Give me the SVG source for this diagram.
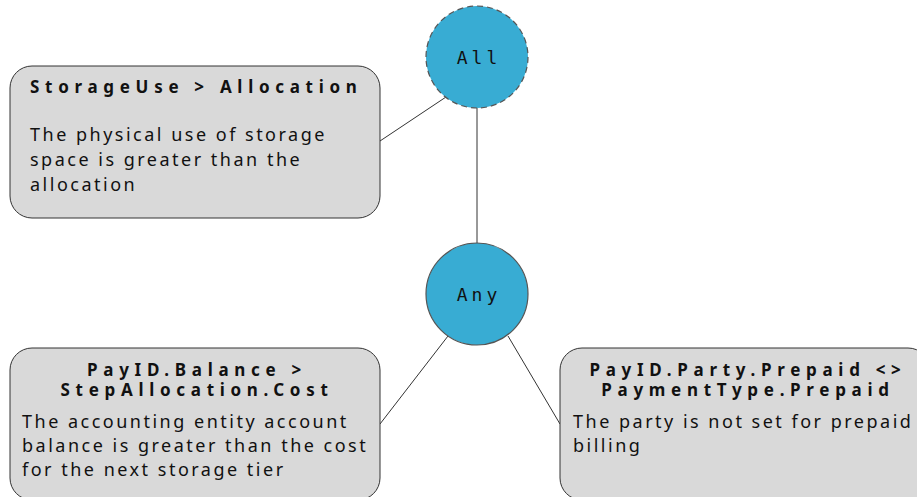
<svg xmlns="http://www.w3.org/2000/svg" width="917" height="497" viewBox="0 0 917 497">
<style>
.box{fill:#d9d9d9;stroke:#333;stroke-width:1}
.circ{fill:#38acd3;stroke:#555;stroke-width:1.2}
.title{font-family:"Noto Sans","Open Sans",sans-serif;font-weight:bold;font-size:17px;letter-spacing:5.7px;fill:#111}
.body{font-family:"Noto Sans","Open Sans",sans-serif;font-size:18px;letter-spacing:2.5px;fill:#111}
.ctext{font-family:"DejaVu Sans Mono",monospace;font-size:18px;letter-spacing:4px;fill:#111;text-anchor:middle}
.conn{stroke:#333;stroke-width:1;fill:none}
</style>
<rect width="917" height="497" fill="#fff"/>
<g id="connectors">
<line class="conn" x1="477" y1="108" x2="477" y2="243"/>
<line class="conn" x1="380" y1="141" x2="446" y2="97"/>
<line class="conn" x1="380" y1="424" x2="448" y2="336"/>
<line class="conn" x1="508" y1="336" x2="560" y2="424"/>
</g>
<g id="all">
<circle class="circ" cx="477" cy="57" r="51" stroke-dasharray="6 4"/>
<text class="ctext" x="479" y="64">All</text>
</g>
<g id="any">
<circle class="circ" cx="477" cy="294" r="51"/>
<text class="ctext" x="479" y="301">Any</text>
</g>
<g id="storage">
<rect class="box" x="10" y="66" width="370" height="152" rx="22"/>
<text class="title" x="30" y="93">StorageUse &gt; Allocation</text>
<text class="body" x="30" y="141">The physical use of storage</text>
<text class="body" x="30" y="166">space is greater than the</text>
<text class="body" x="30" y="191">allocation</text>
</g>
<g id="balance">
<rect class="box" x="10" y="348" width="370" height="152" rx="22"/>
<text class="title" x="197" y="376" text-anchor="middle">PayID.Balance &gt;</text>
<text class="title" x="197" y="396" text-anchor="middle">StepAllocation.Cost</text>
<text class="body" x="22" y="428">The accounting entity account</text>
<text class="body" x="22" y="452">balance is greater than the cost</text>
<text class="body" x="22" y="476">for the next storage tier</text>
</g>
<g id="prepaid">
<rect class="box" x="560" y="348" width="370" height="152" rx="22"/>
<text class="title" x="748" y="376" text-anchor="middle">PayID.Party.Prepaid &lt;&gt;</text>
<text class="title" x="748" y="396" text-anchor="middle">PaymentType.Prepaid</text>
<text class="body" x="573" y="428">The party is not set for prepaid</text>
<text class="body" x="573" y="452">billing</text>
</g>
</svg>
